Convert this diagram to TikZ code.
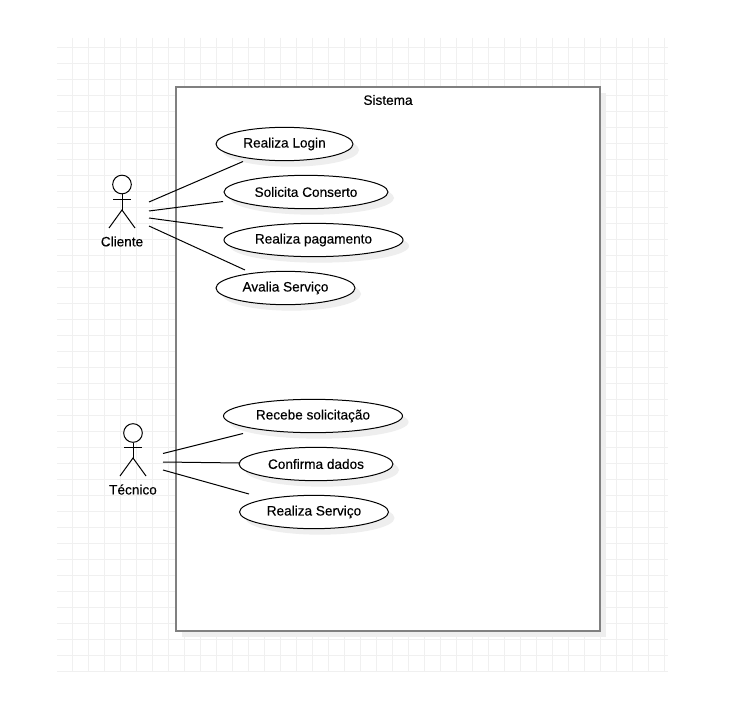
\documentclass[tikz,border=0pt]{standalone}
\usepackage{fontspec}
\setmainfont{Liberation Sans}[BoldFont={Liberation Sans}, BoldFeatures={FakeBold=0.3}]
\usetikzlibrary{shapes.geometric, shadows}
\definecolor{mygrid}{RGB}{240,240,240}
\definecolor{myshadow}{RGB}{238,238,238}
\definecolor{myborder}{RGB}{128,128,128}
\tikzset{
  usecase/.style={ellipse, draw=black, fill=white, line width=0.75pt, inner sep=0pt, outer sep=0pt,
    font=\fontsize{10.2pt}{12pt}\bfseries, general shadow={shadow xshift=4.5pt, shadow yshift=-4.5pt, fill=myshadow}},
  wire/.style={line width=0.75pt, color=black},
  lbl/.style={font=\fontsize{10.2pt}{12pt}\bfseries, inner sep=0pt}
}
\begin{document}
\begin{tikzpicture}[x=0.75pt, y=-0.75pt,
  sysbox/.style={rectangle, draw=myborder, fill=white, line width=1.5pt, inner sep=0pt,
    minimum width=318pt, minimum height=408pt, general shadow={shadow xshift=4.5pt, shadow yshift=-4.5pt, fill=myshadow}},
  head/.style={circle, draw=black, fill=white, line width=0.75pt, inner sep=0pt, minimum size=14pt}
]
\useasboundingbox[fill=white] (0,0) rectangle (741,702);
%--- background grid ---
\foreach \gx in {0,...,37} \draw[mygrid, line width=0.75pt] (72.5+16*\gx,38) -- (72.5+16*\gx,672);
\foreach \gy in {0,...,39} \draw[mygrid, line width=0.75pt] (57,47.5+16*\gy) -- (668,47.5+16*\gy);

%--- system boundary ---
\node[sysbox] (sistema) at (388,359) {};
\node[lbl] (sistlbl) at (388,100) {Sistema};

%--- use cases, Cliente ---
\node[usecase, minimum width=102.75pt, minimum height=25pt] (login)  at (284.5,144) {Realiza Login};
\node[usecase, minimum width=123pt, minimum height=25pt]    (consrt) at (306,192)   {Solicita Conserto};
\node[usecase, minimum width=134.25pt, minimum height=25pt] (pagto)  at (313.5,240) {Realiza pagamento};
\node[usecase, minimum width=104.25pt, minimum height=25pt] (avalia) at (285.5,288) {Avalia Serviço};

%--- use cases, Tecnico ---
\node[usecase, minimum width=134.25pt, minimum height=25pt] (recebe) at (313,416)   {Recebe solicitação};
\node[usecase, minimum width=115.5pt, minimum height=25pt]  (dados)  at (316,464)   {Confirma dados};
\node[usecase, minimum width=111.75pt, minimum height=25pt] (servico) at (314,512)  {Realiza Serviço};

%--- Cliente actor ---
\node[head] (clihead) at (122,184.5) {};
\coordinate (clihip) at (122,210);
\draw[wire] (clihead.south) -- (clihip);
\draw[wire] (113,200) -- (131,200);
\draw[wire] (109,228) -- (clihip) -- (135,228);
\node[lbl] (clilbl) at (122,241.5) {Cliente};

%--- Tecnico actor ---
\node[head] (techead) at (133,433) {};
\coordinate (techip) at (133,458);
\draw[wire] (techead.south) -- (techip);
\draw[wire] (124,447) -- (142,447);
\draw[wire] (120,476) -- (techip) -- (146,476);
\node[lbl] (teclbl) at (133,489.5) {Técnico};

%--- connector ends ---
\coordinate (clia) at (149,202);
\coordinate (clib) at (149,211);
\coordinate (clic) at (149,218);
\coordinate (clid) at (149,226);
\coordinate (loginend)  at (243,161.5);
\coordinate (consrtend) at (223,201.5);
\coordinate (pagtoend)  at (223,228);
\coordinate (avaliaend) at (245,270);
\coordinate (teca) at (163,453.5);
\coordinate (tecb) at (163,462);
\coordinate (tecc) at (163,470);
\coordinate (recebeend)  at (243,433.5);
\coordinate (dadosend)   at (240,463);
\coordinate (servicoend) at (249,494);

\draw[wire] (clia) -- (loginend);
\draw[wire] (clib) -- (consrtend);
\draw[wire] (clic) -- (pagtoend);
\draw[wire] (clid) -- (avaliaend);
\draw[wire] (teca) -- (recebeend);
\draw[wire] (tecb) -- (dadosend);
\draw[wire] (tecc) -- (servicoend);
\end{tikzpicture}
\end{document}
